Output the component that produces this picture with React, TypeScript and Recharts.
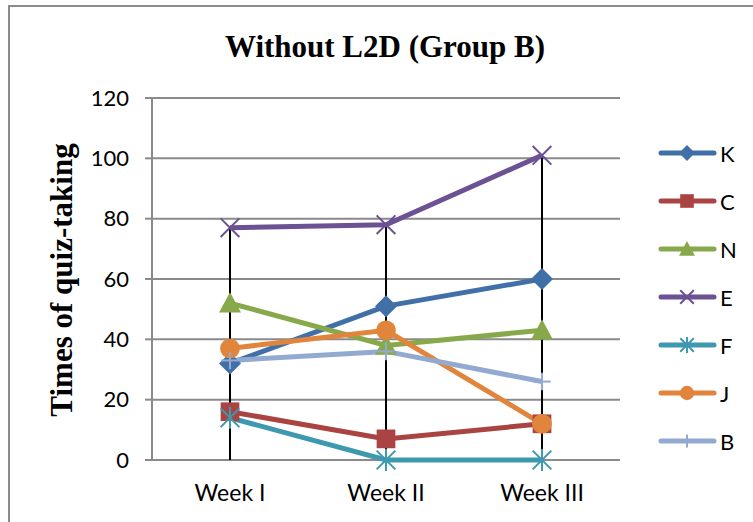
import { ComposedChart, Line, Bar, XAxis, YAxis, CartesianGrid } from "recharts";

const weeks = ["Week I", "Week II", "Week III"];
const seriesNames = ["K", "C", "N", "E", "F", "J", "B"];
const valuesK = [32, 51, 60];
const valuesC = [16, 7, 12];
const valuesN = [52, 38, 43];
const valuesE = [77, 78, 101];
const valuesF = [14, 0, 0];
const valuesJ = [37, 43, 12];
const valuesB = [33, 36, 26];
const yTicks = [0, 20, 40, 60, 80, 100, 120];

const allValues = [valuesK, valuesC, valuesN, valuesE, valuesF, valuesJ, valuesB];

const colors: Record<string, string> = {
  K: "#4170a8",
  C: "#a94442",
  N: "#88a94b",
  E: "#6c5193",
  F: "#3e98b0",
  J: "#e0853b",
  B: "#93aad0",
};

const markers: Record<string, string> = {
  K: "diamond",
  C: "square",
  N: "triangle",
  E: "x",
  F: "star",
  J: "circle",
  B: "plus",
};

const data = weeks.map((w, i) => {
  const row: any = { week: w };
  seriesNames.forEach((name, s) => {
    row[name] = allValues[s][i];
  });
  row.drop = Math.max(...allValues.map((v) => v[i]));
  return row;
});

function Marker({ kind, cx, cy, color, s }: any) {
  if (kind === "diamond") {
    return <polygon points={`${cx},${cy - s} ${cx + s},${cy} ${cx},${cy + s} ${cx - s},${cy}`} fill={color} />;
  }
  if (kind === "square") {
    return <rect x={cx - s * 0.85} y={cy - s * 0.85} width={s * 1.7} height={s * 1.7} fill={color} />;
  }
  if (kind === "triangle") {
    return <polygon points={`${cx},${cy - s} ${cx + s},${cy + s * 0.85} ${cx - s},${cy + s * 0.85}`} fill={color} />;
  }
  if (kind === "circle") {
    return <circle cx={cx} cy={cy} r={s * 0.9} fill={color} />;
  }
  const d = s * 0.85;
  if (kind === "x") {
    return (
      <g stroke={color} strokeWidth={2}>
        <line x1={cx - d} y1={cy - d} x2={cx + d} y2={cy + d} />
        <line x1={cx - d} y1={cy + d} x2={cx + d} y2={cy - d} />
      </g>
    );
  }
  if (kind === "star") {
    return (
      <g stroke={color} strokeWidth={2}>
        <line x1={cx - d} y1={cy - d} x2={cx + d} y2={cy + d} />
        <line x1={cx - d} y1={cy + d} x2={cx + d} y2={cy - d} />
        <line x1={cx} y1={cy - s} x2={cx} y2={cy + s} />
      </g>
    );
  }
  return (
    <g stroke={color} strokeWidth={2}>
      <line x1={cx - s * 0.8} y1={cy} x2={cx + s * 0.8} y2={cy} />
      <line x1={cx} y1={cy - s * 0.8} x2={cx} y2={cy + s * 0.8} />
    </g>
  );
}

function DropLine(props: any) {
  const { x, y, width, height } = props;
  const cx = x + width / 2;
  return <line x1={cx} y1={y} x2={cx} y2={y + height} stroke="#000" strokeWidth={2} />;
}

function LegendBox() {
  return (
    <div style={{ position: "absolute", left: 656, top: 129, fontFamily: "Lato", fontSize: 22, color: "#000" }}>
      {seriesNames.map((name) => (
        <div key={name} style={{ display: "flex", alignItems: "center", height: 48 }}>
          <svg width={62} height={24}>
            <line x1={5} y1={12} x2={58} y2={12} stroke={colors[name]} strokeWidth={5} strokeLinecap="round" />
            <Marker kind={markers[name]} cx={31} cy={12} color={colors[name]} s={8} />
          </svg>
          <span style={{ marginLeft: 2 }}>{name}</span>
        </div>
      ))}
    </div>
  );
}

export default function App() {
  return (
    <div style={{ position: "absolute", left: 0, top: 0, width: 753, height: 522, overflow: "hidden", background: "#fff" }}>
      <div
        style={{
          position: "absolute",
          left: 8,
          top: 5,
          width: 800,
          height: 600,
          borderLeft: "2px solid #8c8c8c",
          borderTop: "2px solid #8c8c8c",
        }}
      />
      <div
        style={{
          position: "absolute",
          left: 0,
          top: 29,
          width: 770,
          textAlign: "center",
          fontFamily: "Liberation Serif",
          fontWeight: "bold",
          fontSize: 31,
        }}
      >
        Without L2D (Group B)
      </div>
      <div
        style={{
          position: "absolute",
          left: 62,
          top: 280,
          transform: "translate(-50%, -50%) rotate(-90deg)",
          whiteSpace: "nowrap",
          fontFamily: "Liberation Serif",
          fontWeight: "bold",
          fontSize: 31,
        }}
      >
        Times of quiz-taking
      </div>
      <div style={{ position: "absolute", left: 0, top: 0 }}>
        <ComposedChart
          width={753}
          height={522}
          data={data}
          margin={{ top: 98, right: 133, bottom: 32, left: 0 }}
        >
          <CartesianGrid vertical={false} stroke="#8a8a8a" strokeWidth={2} />
          <XAxis
            dataKey="week"
            height={30}
            axisLine={false}
            tickLine={false}
            tick={{ fontFamily: "Lato", fontSize: 23, fill: "#000" }}
            tickMargin={19}
          />
          <YAxis
            width={152}
            domain={[0, 120]}
            ticks={yTicks}
            interval={0}
            axisLine={{ stroke: "#8a8a8a", strokeWidth: 2 }}
            tickLine={{ stroke: "#8a8a8a", strokeWidth: 2 }}
            tickSize={7}
            tickMargin={16}
            tick={{ fontFamily: "Lato", fontSize: 22, fill: "#000" }}
          />
          <Bar dataKey="drop" barSize={2} shape={DropLine} isAnimationActive={false} />
          {seriesNames.map((name) => (
            <Line
              key={name}
              dataKey={name}
              stroke={colors[name]}
              strokeWidth={5}
              isAnimationActive={false}
              dot={(p: any) => (
                <Marker key={`${name}-${p.index}`} kind={markers[name]} cx={p.cx} cy={p.cy} color={colors[name]} s={11} />
              )}
              activeDot={false}
            />
          ))}
        </ComposedChart>
      </div>
      <LegendBox />
    </div>
  );
}
